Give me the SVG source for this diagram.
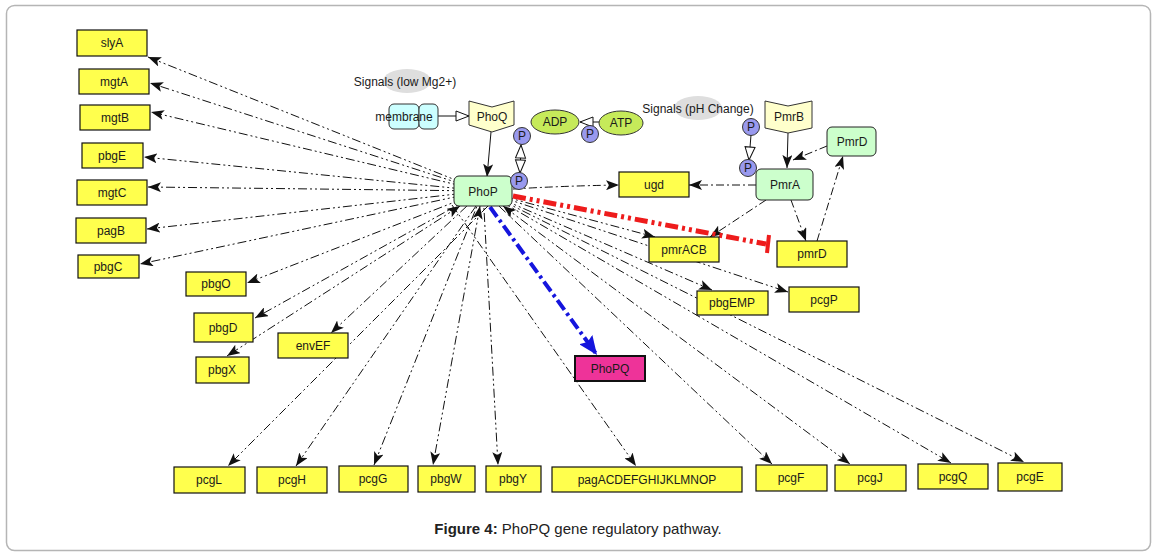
<svg xmlns="http://www.w3.org/2000/svg" width="1157" height="555" viewBox="0 0 1157 555">
<style>
text{font-family:"Liberation Sans",Arial,sans-serif;font-size:12px;fill:#1a1a1a;text-anchor:middle}
.gene{fill:#ffff4d;stroke:#111;stroke-width:1.2}
.prot{fill:#ccffcc;stroke:#222;stroke-width:1}
.kin{fill:#ffffcc;stroke:#333;stroke-width:1}
.mem{fill:#ccffff;stroke:#333;stroke-width:1}
.nuc{fill:#c6ea5a;stroke:#333;stroke-width:1}
.pho{fill:#9999ee;stroke:#333;stroke-width:1}
.sig{fill:#dedede}
.fan{fill:none;stroke:#111;stroke-width:1;stroke-dasharray:9 3 2 3 2 3;marker-end:url(#ah)}
.dd{fill:none;stroke:#111;stroke-width:1;stroke-dasharray:8 3 2 3;marker-end:url(#ah)}
.solid{fill:none;stroke:#111;stroke-width:1;marker-end:url(#ah)}
.hol{fill:none;stroke:#111;stroke-width:1}
</style>
<defs>
<marker id="ah" markerUnits="userSpaceOnUse" markerWidth="14" markerHeight="10" refX="13" refY="5" orient="auto-start-reverse">
<path d="M0,0 L13,5 L0,10 L3,5 z" fill="#111"/>
</marker>
<marker id="ahb" markerUnits="userSpaceOnUse" markerWidth="20" markerHeight="16" refX="19" refY="8" orient="auto">
<path d="M0,0 L19,8 L0,16 L3,8 z" fill="#1515dd"/>
</marker>
<marker id="hollow" markerUnits="userSpaceOnUse" markerWidth="16" markerHeight="12" refX="14" refY="6" orient="auto-start-reverse">
<path d="M1,1 L14,6 L1,11 z" fill="#fff" stroke="#111" stroke-width="1"/>
</marker>
</defs>
<rect x="0" y="0" width="1157" height="555" fill="#fff"/>
<rect x="6.5" y="5.5" width="1144" height="545" rx="8" fill="#fff" stroke="#b5b5b5" stroke-width="1.5"/>

<g id="connectors">
<path class="fan" d="M483,191 L148,57"/>
<path class="fan" d="M483,191 L150,83"/>
<path class="fan" d="M483,191 L151,112"/>
<path class="fan" d="M483,191 L144,157"/>
<path class="fan" d="M483,191 L148,187"/>
<path class="fan" d="M483,191 L147,229"/>
<path class="fan" d="M483,191 L140,264"/>
<path class="fan" d="M483,191 L247,283"/>
<path class="fan" d="M483,191 L255,318"/>
<path class="fan" d="M460,206 L227,356" style="marker-start:url(#ah)"/>
<path class="fan" d="M483,191 L331,333"/>
<path class="fan" d="M488,206 L228,466"/>
<path class="fan" d="M476,206 L296,466"/>
<path class="fan" d="M483,191 L374,465"/>
<path class="fan" d="M480,206 L433,465" style="marker-start:url(#ah)"/>
<path class="fan" d="M483,191 L498,465"/>
<path class="fan" d="M452,205 L636,466"/>
<path class="fan" d="M483,191 L772,464"/>
<path class="fan" d="M503,206 L850,464" style="marker-start:url(#ah)"/>
<path class="fan" d="M483,191 L951,463"/>
<path class="fan" d="M483,191 L1024,462"/>
<path class="fan" d="M483,191 L712,290"/>
<path class="fan" d="M483,191 L788,292"/>
<path class="fan" d="M483,191 L655,237"/>
<path class="dd" d="M513,189 Q560,186 619,185"/>
<path class="dd" d="M756,185 L689,185"/>
<path class="dd" d="M766,200 L710,237"/>
<path class="dd" d="M791,200 L806,241"/>
<path class="dd" d="M817,241 L843,156"/>
<path class="dd" d="M827,146 L793,160"/>
<path class="solid" d="M788,133 L787,168"/>
<path class="solid" d="M491,132 L487,177"/>
<path class="hol" d="M438,116 L469,116" style="marker-end:url(#hollow)"/>
<path class="hol" d="M521,145 L520,173" style="marker-start:url(#hollow);marker-end:url(#hollow)"/>
<path class="hol" d="M599,122 L580,122" style="marker-end:url(#hollow)"/>
<path class="hol" d="M751,135 L749,160" style="marker-end:url(#hollow)"/>
<path d="M513,196 L766,244" fill="none" stroke="#ee1c1c" stroke-width="5" stroke-dasharray="13 4 3 4 3 4"/>
<path d="M769,235 L767,253" fill="none" stroke="#ee1c1c" stroke-width="4"/>
<path d="M490,207 L597,355" fill="none" stroke="#1515dd" stroke-width="4" stroke-dasharray="12 4 3 4" style="marker-end:url(#ahb)"/>
</g>

<g id="signal-mg"><ellipse class="sig" cx="407" cy="81" rx="24" ry="12"/><text x="405" y="86">Signals (low Mg2+)</text></g>
<g id="signal-ph"><ellipse class="sig" cx="698" cy="108" rx="24" ry="12"/><text x="698" y="113">Signals (pH Change)</text></g>

<g id="membrane"><rect class="mem" x="389" y="104" width="30" height="25" rx="5"/><rect class="mem" x="419" y="104" width="19" height="25" rx="5"/><text x="404" y="121">membrane</text></g>
<g id="PhoQ"><polygon class="kin" points="469,101 492,107 514,101 514,125 492,132 469,125"/><text x="492" y="121">PhoQ</text></g>
<g id="PmrB"><polygon class="kin" points="765,101 788,106 812,101 812,128 788,133 765,128"/><text x="789" y="121">PmrB</text></g>
<g id="ADP"><ellipse class="nuc" cx="555" cy="122" rx="24" ry="12"/><text x="555" y="126">ADP</text></g>
<g id="ATP"><ellipse class="nuc" cx="621" cy="123" rx="22" ry="12"/><text x="621" y="127">ATP</text></g>

<g id="PhoP"><rect class="prot" x="454" y="176" width="58" height="30" rx="5"/><text x="483" y="196">PhoP</text></g>
<g id="PmrA"><rect class="prot" x="756" y="169" width="57" height="31" rx="5"/><text x="785" y="189">PmrA</text></g>
<g id="PmrD"><rect class="prot" x="827" y="127" width="49" height="29" rx="5"/><text x="852" y="146">PmrD</text></g>

<g id="P1"><circle class="pho" cx="522" cy="136" r="8.5"/><text x="522" y="140">P</text></g>
<g id="P2"><circle class="pho" cx="519" cy="181" r="8.5"/><text x="519" y="185">P</text></g>
<g id="P3"><circle class="pho" cx="590" cy="134" r="8.5"/><text x="590" y="138">P</text></g>
<g id="P4"><circle class="pho" cx="751" cy="127" r="8.5"/><text x="751" y="131">P</text></g>
<g id="P5"><circle class="pho" cx="748" cy="168" r="8.5"/><text x="748" y="172">P</text></g>

<g id="slyA"><rect class="gene" x="77" y="30" width="70" height="26"/><text x="112" y="47">slyA</text></g>
<g id="mgtA"><rect class="gene" x="79" y="69" width="70" height="25"/><text x="114" y="86">mgtA</text></g>
<g id="mgtB"><rect class="gene" x="80" y="105" width="70" height="25"/><text x="115" y="122">mgtB</text></g>
<g id="pbgE"><rect class="gene" x="82" y="143" width="61" height="25"/><text x="112" y="160">pbgE</text></g>
<g id="mgtC"><rect class="gene" x="77" y="180" width="70" height="25"/><text x="112" y="197">mgtC</text></g>
<g id="pagB"><rect class="gene" x="76" y="218" width="70" height="25"/><text x="111" y="235">pagB</text></g>
<g id="pbgC"><rect class="gene" x="78" y="255" width="61" height="23"/><text x="108" y="271">pbgC</text></g>
<g id="pbgO"><rect class="gene" x="186" y="272" width="60" height="24"/><text x="216" y="288">pbgO</text></g>
<g id="pbgD"><rect class="gene" x="194" y="313" width="59" height="29"/><text x="223" y="332">pbgD</text></g>
<g id="pbgX"><rect class="gene" x="196" y="357" width="53" height="26"/><text x="222" y="374">pbgX</text></g>
<g id="envEF"><rect class="gene" x="278" y="333" width="70" height="25"/><text x="313" y="350">envEF</text></g>
<g id="pcgL"><rect class="gene" x="174" y="467" width="71" height="26"/><text x="209" y="484">pcgL</text></g>
<g id="pcgH"><rect class="gene" x="257" y="467" width="70" height="26"/><text x="292" y="484">pcgH</text></g>
<g id="pcgG"><rect class="gene" x="339" y="466" width="69" height="26"/><text x="373" y="483">pcgG</text></g>
<g id="pbgW"><rect class="gene" x="418" y="466" width="57" height="26"/><text x="446" y="483">pbgW</text></g>
<g id="pbgY"><rect class="gene" x="486" y="466" width="55" height="26"/><text x="513" y="483">pbgY</text></g>
<g id="pagACDEFGHIJKLMNOP"><rect class="gene" x="552" y="467" width="190" height="25"/><text x="647" y="484">pagACDEFGHIJKLMNOP</text></g>
<g id="pcgF"><rect class="gene" x="756" y="465" width="71" height="26"/><text x="791" y="482">pcgF</text></g>
<g id="pcgJ"><rect class="gene" x="835" y="465" width="71" height="26"/><text x="870" y="482">pcgJ</text></g>
<g id="pcgQ"><rect class="gene" x="918" y="464" width="70" height="25"/><text x="953" y="481">pcgQ</text></g>
<g id="pcgE"><rect class="gene" x="998" y="463" width="64" height="28"/><text x="1030" y="481">pcgE</text></g>
<g id="ugd"><rect class="gene" x="619" y="172" width="70" height="25"/><text x="654" y="189">ugd</text></g>
<g id="pmrACB"><rect class="gene" x="649" y="237" width="70" height="25"/><text x="684" y="254">pmrACB</text></g>
<g id="pmrD"><rect class="gene" x="777" y="241" width="70" height="26"/><text x="812" y="258">pmrD</text></g>
<g id="pbgEMP"><rect class="gene" x="697" y="291" width="71" height="24"/><text x="732" y="307">pbgEMP</text></g>
<g id="pcgP"><rect class="gene" x="789" y="287" width="70" height="25"/><text x="824" y="304">pcgP</text></g>
<g id="PhoPQ"><rect x="575" y="356" width="70" height="25" fill="#ee3399" stroke="#111" stroke-width="2"/><text x="610" y="373">PhoPQ</text></g>

<text x="578" y="534" style="font-size:15px;fill:#222">
<tspan font-weight="bold">Figure 4:</tspan> PhoPQ gene regulatory pathway.</text>
</svg>
